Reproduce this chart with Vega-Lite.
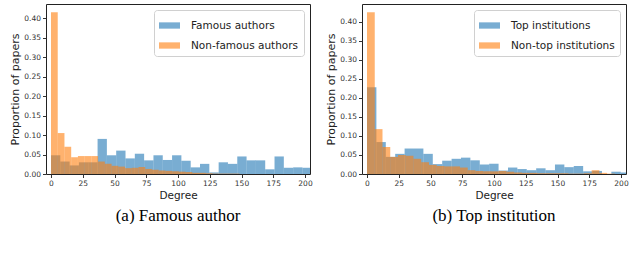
{
  "$schema": "https://vega.github.io/schema/vega-lite/v6.json",
  "padding": {"left": 9, "top": 3, "right": 0, "bottom": 0},
  "spacing": 12,
  "background": "white",
  "config": {
    "font": "DejaVu Sans",
    "view": {"stroke": "#222", "strokeWidth": 1},
    "axis": {"labelFontSize": 7.5, "titleFontSize": 10.5, "titleFontWeight": "normal", "labelColor": "#333", "titleColor": "#222", "tickColor": "#333", "tickSize": 3.5, "domain": false, "grid": false, "labelPadding": 2, "titlePadding": 3, "labelFlush": false},
    "axisY": {"titleFontSize": 11},
    "legend": {"orient": "top-right", "offset": 6, "title": null, "labelFontSize": 10.5, "labelColor": "#222", "symbolType": "M-1,-0.3H1V0.3H-1Z", "symbolSize": 441, "symbolStrokeWidth": 0, "symbolOpacity": 0.6, "strokeColor": "#d0d0d0", "fillColor": "white", "padding": 5, "cornerRadius": 3, "rowPadding": 4, "labelOffset": 11},
    "title": {"orient": "bottom", "font": "Liberation Serif", "fontSize": 17, "fontWeight": "normal", "color": "black", "offset": 7, "anchor": "middle"}
  },
  "datasets": {
    "famous": [
      {"series": "Famous authors", "x0": 0, "x1": 7.33, "p": 0.048},
      {"series": "Famous authors", "x0": 7.33, "x1": 14.67, "p": 0.032},
      {"series": "Famous authors", "x0": 14.67, "x1": 22, "p": 0.022},
      {"series": "Famous authors", "x0": 22, "x1": 29.33, "p": 0.03},
      {"series": "Famous authors", "x0": 29.33, "x1": 36.67, "p": 0.03},
      {"series": "Famous authors", "x0": 36.67, "x1": 44, "p": 0.09},
      {"series": "Famous authors", "x0": 44, "x1": 51.33, "p": 0.048},
      {"series": "Famous authors", "x0": 51.33, "x1": 58.67, "p": 0.06},
      {"series": "Famous authors", "x0": 58.67, "x1": 66, "p": 0.04},
      {"series": "Famous authors", "x0": 66, "x1": 73.33, "p": 0.052},
      {"series": "Famous authors", "x0": 73.33, "x1": 80.67, "p": 0.035},
      {"series": "Famous authors", "x0": 80.67, "x1": 88, "p": 0.048},
      {"series": "Famous authors", "x0": 88, "x1": 95.33, "p": 0.036},
      {"series": "Famous authors", "x0": 95.33, "x1": 102.67, "p": 0.048},
      {"series": "Famous authors", "x0": 102.67, "x1": 110, "p": 0.034},
      {"series": "Famous authors", "x0": 110, "x1": 117.33, "p": 0.017},
      {"series": "Famous authors", "x0": 117.33, "x1": 124.67, "p": 0.026},
      {"series": "Famous authors", "x0": 124.67, "x1": 132, "p": 0.004},
      {"series": "Famous authors", "x0": 132, "x1": 139.33, "p": 0.03},
      {"series": "Famous authors", "x0": 139.33, "x1": 146.67, "p": 0.026},
      {"series": "Famous authors", "x0": 146.67, "x1": 154, "p": 0.045},
      {"series": "Famous authors", "x0": 154, "x1": 161.33, "p": 0.035},
      {"series": "Famous authors", "x0": 161.33, "x1": 168.67, "p": 0.035},
      {"series": "Famous authors", "x0": 168.67, "x1": 176, "p": 0.012},
      {"series": "Famous authors", "x0": 176, "x1": 183.33, "p": 0.045},
      {"series": "Famous authors", "x0": 183.33, "x1": 190.67, "p": 0.016},
      {"series": "Famous authors", "x0": 190.67, "x1": 198, "p": 0.017},
      {"series": "Famous authors", "x0": 198, "x1": 205.33, "p": 0.016},
      {"series": "Non-famous authors", "x0": 0, "x1": 5.3, "p": 0.415},
      {"series": "Non-famous authors", "x0": 5.3, "x1": 10.6, "p": 0.105},
      {"series": "Non-famous authors", "x0": 10.6, "x1": 15.9, "p": 0.07},
      {"series": "Non-famous authors", "x0": 15.9, "x1": 21.2, "p": 0.043},
      {"series": "Non-famous authors", "x0": 21.2, "x1": 26.5, "p": 0.046},
      {"series": "Non-famous authors", "x0": 26.5, "x1": 31.8, "p": 0.046},
      {"series": "Non-famous authors", "x0": 31.8, "x1": 37.1, "p": 0.046},
      {"series": "Non-famous authors", "x0": 37.1, "x1": 42.4, "p": 0.032},
      {"series": "Non-famous authors", "x0": 42.4, "x1": 47.7, "p": 0.026},
      {"series": "Non-famous authors", "x0": 47.7, "x1": 53, "p": 0.021},
      {"series": "Non-famous authors", "x0": 53, "x1": 58.3, "p": 0.019},
      {"series": "Non-famous authors", "x0": 58.3, "x1": 63.6, "p": 0.015},
      {"series": "Non-famous authors", "x0": 63.6, "x1": 68.9, "p": 0.016},
      {"series": "Non-famous authors", "x0": 68.9, "x1": 74.2, "p": 0.018},
      {"series": "Non-famous authors", "x0": 74.2, "x1": 79.5, "p": 0.013},
      {"series": "Non-famous authors", "x0": 79.5, "x1": 84.8, "p": 0.011},
      {"series": "Non-famous authors", "x0": 84.8, "x1": 90.1, "p": 0.009},
      {"series": "Non-famous authors", "x0": 90.1, "x1": 95.4, "p": 0.008},
      {"series": "Non-famous authors", "x0": 95.4, "x1": 100.7, "p": 0.007},
      {"series": "Non-famous authors", "x0": 100.7, "x1": 106, "p": 0.006},
      {"series": "Non-famous authors", "x0": 106, "x1": 111.3, "p": 0.005},
      {"series": "Non-famous authors", "x0": 111.3, "x1": 116.6, "p": 0.003},
      {"series": "Non-famous authors", "x0": 116.6, "x1": 121.9, "p": 0.003},
      {"series": "Non-famous authors", "x0": 121.9, "x1": 127.2, "p": 0.002},
      {"series": "Non-famous authors", "x0": 127.2, "x1": 132.5, "p": 0.001},
      {"series": "Non-famous authors", "x0": 132.5, "x1": 137.8, "p": 0.001},
      {"series": "Non-famous authors", "x0": 137.8, "x1": 143.1, "p": 0.001},
      {"series": "Non-famous authors", "x0": 143.1, "x1": 148.4, "p": 0.001}
    ],
    "institution": [
      {"series": "Top institutions", "x0": 0, "x1": 7.4, "p": 0.228},
      {"series": "Top institutions", "x0": 7.4, "x1": 14.8, "p": 0.084},
      {"series": "Top institutions", "x0": 14.8, "x1": 22.2, "p": 0.045},
      {"series": "Top institutions", "x0": 22.2, "x1": 29.6, "p": 0.053},
      {"series": "Top institutions", "x0": 29.6, "x1": 37, "p": 0.067},
      {"series": "Top institutions", "x0": 37, "x1": 44.4, "p": 0.067},
      {"series": "Top institutions", "x0": 44.4, "x1": 51.8, "p": 0.053},
      {"series": "Top institutions", "x0": 51.8, "x1": 59.2, "p": 0.026},
      {"series": "Top institutions", "x0": 59.2, "x1": 66.6, "p": 0.035},
      {"series": "Top institutions", "x0": 66.6, "x1": 74, "p": 0.04},
      {"series": "Top institutions", "x0": 74, "x1": 81.4, "p": 0.043},
      {"series": "Top institutions", "x0": 81.4, "x1": 88.8, "p": 0.036},
      {"series": "Top institutions", "x0": 88.8, "x1": 96.2, "p": 0.025},
      {"series": "Top institutions", "x0": 96.2, "x1": 103.6, "p": 0.027},
      {"series": "Top institutions", "x0": 103.6, "x1": 111, "p": 0.009},
      {"series": "Top institutions", "x0": 111, "x1": 118.4, "p": 0.017},
      {"series": "Top institutions", "x0": 118.4, "x1": 125.8, "p": 0.013},
      {"series": "Top institutions", "x0": 125.8, "x1": 133.2, "p": 0.01},
      {"series": "Top institutions", "x0": 133.2, "x1": 140.6, "p": 0.015},
      {"series": "Top institutions", "x0": 140.6, "x1": 148, "p": 0.01},
      {"series": "Top institutions", "x0": 148, "x1": 155.4, "p": 0.025},
      {"series": "Top institutions", "x0": 155.4, "x1": 162.8, "p": 0.018},
      {"series": "Top institutions", "x0": 162.8, "x1": 170.2, "p": 0.021},
      {"series": "Top institutions", "x0": 170.2, "x1": 177.6, "p": 0.007},
      {"series": "Top institutions", "x0": 177.6, "x1": 185, "p": 0.008},
      {"series": "Top institutions", "x0": 185, "x1": 192.4, "p": 0.0},
      {"series": "Top institutions", "x0": 192.4, "x1": 199.8, "p": 0.006},
      {"series": "Top institutions", "x0": 199.8, "x1": 207.2, "p": 0.004},
      {"series": "Non-top institutions", "x0": 0, "x1": 6.1, "p": 0.425},
      {"series": "Non-top institutions", "x0": 6.1, "x1": 12.2, "p": 0.118},
      {"series": "Non-top institutions", "x0": 12.2, "x1": 18.3, "p": 0.071},
      {"series": "Non-top institutions", "x0": 18.3, "x1": 24.4, "p": 0.045},
      {"series": "Non-top institutions", "x0": 24.4, "x1": 30.5, "p": 0.05},
      {"series": "Non-top institutions", "x0": 30.5, "x1": 36.6, "p": 0.048},
      {"series": "Non-top institutions", "x0": 36.6, "x1": 42.7, "p": 0.04},
      {"series": "Non-top institutions", "x0": 42.7, "x1": 48.8, "p": 0.031},
      {"series": "Non-top institutions", "x0": 48.8, "x1": 54.9, "p": 0.024},
      {"series": "Non-top institutions", "x0": 54.9, "x1": 61, "p": 0.021},
      {"series": "Non-top institutions", "x0": 61, "x1": 67.1, "p": 0.02},
      {"series": "Non-top institutions", "x0": 67.1, "x1": 73.2, "p": 0.02},
      {"series": "Non-top institutions", "x0": 73.2, "x1": 79.3, "p": 0.017},
      {"series": "Non-top institutions", "x0": 79.3, "x1": 85.4, "p": 0.01},
      {"series": "Non-top institutions", "x0": 85.4, "x1": 91.5, "p": 0.008},
      {"series": "Non-top institutions", "x0": 91.5, "x1": 97.6, "p": 0.007},
      {"series": "Non-top institutions", "x0": 97.6, "x1": 103.7, "p": 0.007},
      {"series": "Non-top institutions", "x0": 103.7, "x1": 109.8, "p": 0.008},
      {"series": "Non-top institutions", "x0": 109.8, "x1": 115.9, "p": 0.006},
      {"series": "Non-top institutions", "x0": 115.9, "x1": 122, "p": 0.004},
      {"series": "Non-top institutions", "x0": 122, "x1": 128.1, "p": 0.003},
      {"series": "Non-top institutions", "x0": 128.1, "x1": 134.2, "p": 0.003},
      {"series": "Non-top institutions", "x0": 134.2, "x1": 140.3, "p": 0.002},
      {"series": "Non-top institutions", "x0": 140.3, "x1": 146.4, "p": 0.002},
      {"series": "Non-top institutions", "x0": 146.4, "x1": 152.5, "p": 0.002},
      {"series": "Non-top institutions", "x0": 152.5, "x1": 158.6, "p": 0.002},
      {"series": "Non-top institutions", "x0": 158.6, "x1": 164.7, "p": 0.001},
      {"series": "Non-top institutions", "x0": 164.7, "x1": 170.8, "p": 0.001},
      {"series": "Non-top institutions", "x0": 170.8, "x1": 176.9, "p": 0.002},
      {"series": "Non-top institutions", "x0": 176.9, "x1": 183, "p": 0.01},
      {"series": "Non-top institutions", "x0": 183, "x1": 189.1, "p": 0.003},
      {"series": "Non-top institutions", "x0": 189.1, "x1": 195.2, "p": 0.001}
    ]
  },
  "resolve": {"scale": {"color": "independent", "y": "independent"}, "legend": {"color": "independent"}},
  "hconcat": [
    {
      "title": {"text": "(a) Famous author"},
      "width": 264,
      "height": 170,
      "data": {"name": "famous"},
      "mark": {"type": "bar", "opacity": 0.6, "clip": true, "strokeWidth": 0, "orient": "vertical"},
      "encoding": {
        "x": {"field": "x0", "type": "quantitative", "scale": {"domain": [0, 200], "nice": false, "zero": false}, "axis": {"values": [0, 25, 50, 75, 100, 125, 150, 175, 200], "title": "Degree"}},
        "x2": {"field": "x1"},
        "y": {"field": "p", "type": "quantitative", "scale": {"domain": [0, 0.436], "nice": false}, "axis": {"values": [0, 0.05, 0.1, 0.15, 0.2, 0.25, 0.3, 0.35, 0.4], "format": ".2f", "title": "Proportion of papers"}},
        "y2": {"datum": 0},
        "color": {"field": "series", "type": "nominal", "scale": {"domain": ["Famous authors", "Non-famous authors"], "range": ["#1f77b4", "#ff7f0e"]}}
      }
    },
    {
      "title": {"text": "(b) Top institution"},
      "width": 264,
      "height": 170,
      "data": {"name": "institution"},
      "mark": {"type": "bar", "opacity": 0.6, "clip": true, "strokeWidth": 0, "orient": "vertical"},
      "encoding": {
        "x": {"field": "x0", "type": "quantitative", "scale": {"domain": [0, 200], "nice": false, "zero": false}, "axis": {"values": [0, 25, 50, 75, 100, 125, 150, 175, 200], "title": "Degree"}},
        "x2": {"field": "x1"},
        "y": {"field": "p", "type": "quantitative", "scale": {"domain": [0, 0.447], "nice": false}, "axis": {"values": [0, 0.05, 0.1, 0.15, 0.2, 0.25, 0.3, 0.35, 0.4], "format": ".2f", "title": "Proportion of papers"}},
        "y2": {"datum": 0},
        "color": {"field": "series", "type": "nominal", "scale": {"domain": ["Top institutions", "Non-top institutions"], "range": ["#1f77b4", "#ff7f0e"]}}
      }
    }
  ]
}
